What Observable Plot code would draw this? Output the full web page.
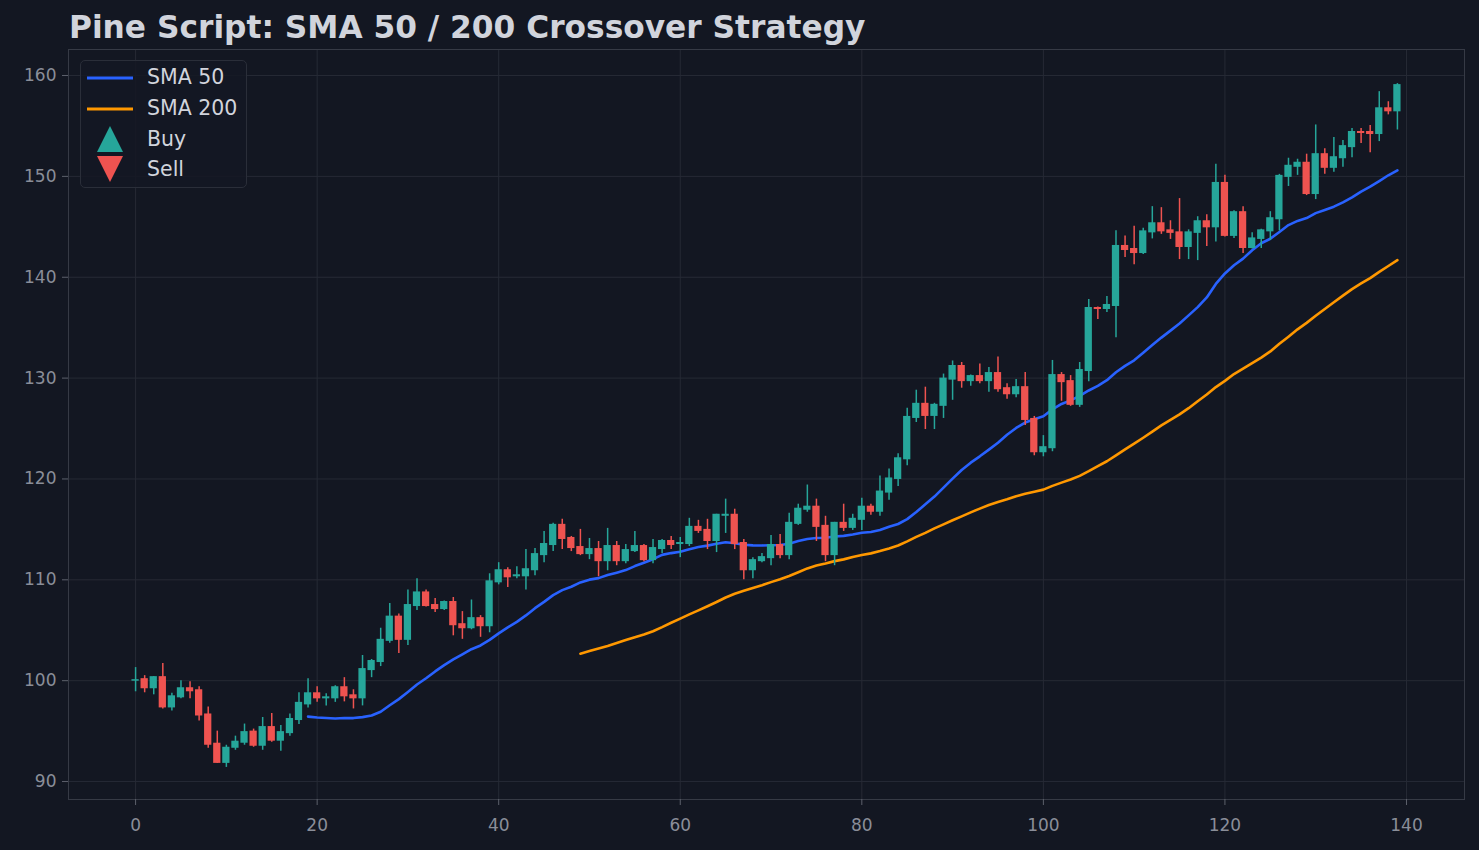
<!DOCTYPE html>
<html><head><meta charset="utf-8">
<script src="https://cdn.jsdelivr.net/npm/d3@7"></script>
<script src="https://cdn.jsdelivr.net/npm/@observablehq/plot@0.6"></script>
<style>
html,body{margin:0;padding:0;background:#131722;}
#wrap{position:relative;width:1479px;height:850px;font-family:"DejaVu Sans",sans-serif;overflow:hidden;}
#title{position:absolute;left:69px;top:12px;font-size:31.25px;line-height:31px;font-weight:bold;color:#d1d4dc;white-space:nowrap;}
#chart{position:absolute;left:0;top:47px;}
#legend{position:absolute;left:80px;top:60px;width:165px;height:126px;border:1px solid #2a2e39;border-radius:5px;background:rgba(20,24,35,0.85);}
.row{position:absolute;left:0;height:30px;width:165px;}
.row svg{position:absolute;left:6px;top:0;}
.row span{position:absolute;left:66px;top:4px;font-size:20.5px;line-height:22px;color:#d1d4dc;}
</style></head>
<body>
<div id="wrap">
  <div id="chart"></div>
  <div id="title">Pine Script: SMA 50 / 200 Crossover Strategy</div>
  <div id="legend"></div>
</div>
<script>
// OHLC values (bar index 0..139)
const opens = [99.95,100.2,99.2,100.4,97.3,98.3,99.3,99.1,96.7,93.8,
91.8,93.3,93.8,95.0,93.5,95.45,94.0,94.75,96.05,97.6,
98.8,98.2,98.2,99.4,98.6,98.2,101.0,101.8,103.9,106.4,
104.0,107.35,108.8,107.55,107.05,107.85,105.65,105.15,106.25,105.35,
109.7,111.0,110.3,110.3,110.9,112.4,113.4,115.5,114.2,113.3,
112.5,113.1,111.8,113.4,111.8,112.8,113.4,111.9,113.0,113.9,
113.5,113.5,115.3,115.0,113.8,116.3,116.5,113.7,110.9,111.8,
112.1,113.5,112.4,115.5,116.9,117.3,115.4,112.4,115.7,115.1,
115.9,117.3,116.7,118.6,119.95,121.9,126.0,127.5,126.2,127.2,
129.8,131.25,129.65,130.25,129.65,130.55,129.05,128.35,129.15,126.0,
122.6,123.0,130.35,129.75,127.3,130.65,137.0,136.8,137.1,143.15,
142.85,142.35,144.4,145.4,144.7,144.5,142.95,144.35,145.6,144.9,
149.4,144.05,146.5,142.85,143.75,144.5,145.7,149.9,150.9,151.4,
148.2,152.25,150.8,151.75,152.85,154.45,154.45,154.15,156.8,156.4];

const closes = [100.1,99.2,100.4,97.3,98.5,99.3,98.9,96.5,93.6,91.8,
93.4,94.0,94.95,93.5,95.45,94.0,94.95,96.25,97.85,98.8,
98.2,98.4,99.4,98.4,98.2,101.2,102.0,104.1,106.4,104.0,
107.55,108.8,107.35,107.05,107.85,105.45,105.15,106.25,105.35,109.9,
111.0,110.2,110.5,111.1,112.6,113.6,115.5,114.0,113.1,112.5,
113.1,111.8,113.4,111.8,113.0,113.4,111.9,113.2,113.9,113.4,
113.7,115.3,114.8,113.8,116.5,116.5,113.5,110.9,112.0,112.3,
113.5,112.4,115.7,117.1,117.3,115.2,112.4,115.7,115.1,116.1,
117.3,116.7,118.8,120.1,122.1,126.2,127.5,126.2,127.4,130.0,
131.25,129.65,130.25,129.65,130.55,128.85,128.35,129.15,125.8,122.6,
123.2,130.35,129.55,127.3,130.85,137.0,136.8,137.3,143.15,142.65,
142.35,144.6,145.4,144.5,144.35,142.95,144.5,145.6,144.9,149.4,
144.05,146.5,142.85,143.9,144.7,145.9,150.1,151.1,151.4,148.2,
152.25,150.8,151.95,153.05,154.45,154.25,154.15,156.8,156.4,159.1];

const highs = [101.3,100.5,100.4,101.7,98.75,100.0,99.9,99.4,97.4,95.0,
93.6,94.5,95.7,95.2,96.35,96.75,95.55,96.7,98.8,100.2,
99.4,98.7,99.5,100.3,99.1,102.5,102.1,105.2,107.65,106.6,
109.0,110.1,109.0,108.15,107.9,108.25,106.85,108.0,106.45,110.6,
111.7,111.2,111.3,113.0,113.1,114.8,115.6,116.0,114.3,115.0,
114.1,113.8,115.1,113.8,113.5,114.8,113.5,114.0,114.0,114.3,
114.2,116.1,115.9,116.0,116.5,118.0,117.0,114.0,112.2,112.6,
114.4,114.5,116.6,117.5,119.4,118.0,116.3,115.7,117.5,116.5,
118.1,117.5,120.3,121.0,122.5,127.0,128.8,129.1,127.5,130.4,
131.7,131.55,130.3,131.4,131.05,132.1,129.45,129.85,130.55,126.2,
124.3,131.75,130.55,130.25,131.55,137.8,137.05,138.1,144.6,144.1,
145.05,144.85,147.0,146.9,145.6,147.8,144.7,146.0,146.2,151.2,
150.1,146.6,147.0,144.4,144.75,146.5,150.2,151.8,151.7,152.2,
155.1,152.75,153.85,153.55,154.75,154.75,155.05,158.4,157.4,159.2];

const lows = [98.9,98.8,98.6,97.2,97.0,98.2,98.2,96.0,93.3,91.8,
91.4,93.1,93.6,93.4,93.1,93.9,93.0,94.5,95.65,97.3,
97.85,97.5,97.85,97.9,97.2,97.5,100.3,101.4,103.7,102.7,
103.5,106.95,107.3,106.75,106.95,104.45,104.1,105.05,104.3,104.75,
109.5,109.25,110.1,109.0,110.4,111.7,112.8,113.0,112.8,112.4,
112.0,110.3,110.9,111.4,111.6,112.7,111.8,111.6,112.6,113.0,
112.2,113.3,114.6,113.0,112.7,114.6,113.0,110.0,110.1,111.7,
111.4,112.1,112.0,115.4,116.7,113.8,111.8,111.4,114.8,114.9,
114.9,116.4,116.3,117.9,119.25,121.3,125.6,124.9,124.9,126.0,
127.8,129.0,129.2,129.45,128.6,128.6,127.9,128.05,125.3,122.3,
122.2,122.7,127.7,127.2,127.1,129.65,135.8,136.5,134.0,141.95,
141.25,142.25,143.8,144.25,143.75,141.75,141.75,141.65,143.05,143.5,
144.0,143.85,142.35,142.8,142.85,143.65,144.6,149.0,150.1,148.1,
147.7,150.2,150.4,150.9,151.85,153.25,152.35,153.45,156.1,154.6];

const xTicks = [0, 20, 40, 60, 80, 100, 120, 140];
const yTicks = [90, 100, 110, 120, 130, 140, 150, 160];
const smaFast = 20;   // window drawn as "SMA 50"
const smaSlow = 50;   // window drawn as "SMA 200"
const seriesNames = ["SMA 50", "SMA 200", "Buy", "Sell"];

const UP = "#26a69a", DOWN = "#ef5350", BLUE = "#2962ff", ORANGE = "#ff9800";

const bars = closes.map((c, i) => ({i, o: opens[i], h: highs[i], l: lows[i], c}));
const col = d => d.c >= d.o ? UP : DOWN;

const chart = Plot.plot({
  width: 1479, height: 803,
  marginLeft: 68, marginRight: 15, marginTop: 2, marginBottom: 51,
  x: {domain: [-7.39, 146.39]},
  y: {domain: [88.22, 162.58]},
  style: {background: "none", color: "#8a8e99", fontFamily: "DejaVu Sans", fontSize: "17px", overflow: "visible"},
  marks: [
    Plot.gridX(xTicks, {stroke: "#262a35", strokeOpacity: 1}),
    Plot.gridY(yTicks, {stroke: "#262a35", strokeOpacity: 1}),
    Plot.frame({stroke: "#363a45"}),
    Plot.lineY(bars, Plot.windowY({k: smaSlow, anchor: "end", strict: true}, {x: "i", y: "c", stroke: ORANGE, strokeWidth: 2.6})),
    Plot.lineY(bars, Plot.windowY({k: smaFast, anchor: "end", strict: true}, {x: "i", y: "c", stroke: BLUE, strokeWidth: 2.6})),
    Plot.ruleX(bars, {x: "i", y1: "l", y2: "h", stroke: col, strokeWidth: 1.5}),
    Plot.rect(bars, {x1: d => d.i - 0.4, x2: d => d.i + 0.4,
      y1: d => Math.min(d.o, d.c), y2: d => Math.max(d.o, d.c), fill: col}),
    Plot.axisX(xTicks, {label: null, tickSize: 6, tickPadding: 13, stroke: "#5d616c", fill: "#8a8e99", fontSize: 17}),
    Plot.axisY(yTicks, {label: null, tickSize: 6, tickPadding: 6, stroke: "#5d616c", fill: "#8a8e99", fontSize: 17})
  ]
});
document.getElementById("chart").appendChild(chart);

// legend
const leg = document.getElementById("legend");
const markers = [
  `<svg width="50" height="30"><line x1="0" x2="46" y1="16" y2="16" stroke="${BLUE}" stroke-width="3"/></svg>`,
  `<svg width="50" height="30"><line x1="0" x2="46" y1="16" y2="16" stroke="${ORANGE}" stroke-width="3"/></svg>`,
  `<svg width="50" height="30"><polygon points="23,2 36,28 10,28" fill="${UP}"/></svg>`,
  `<svg width="50" height="30"><polygon points="10,2 36,2 23,28" fill="${DOWN}"/></svg>`
];
const tops = [1, 32, 63, 93];
seriesNames.forEach((name, k) => {
  const r = document.createElement("div");
  r.className = "row";
  r.style.top = tops[k] + "px";
  r.innerHTML = markers[k] + `<span>${name}</span>`;
  leg.appendChild(r);
});
</script>
</body></html>
